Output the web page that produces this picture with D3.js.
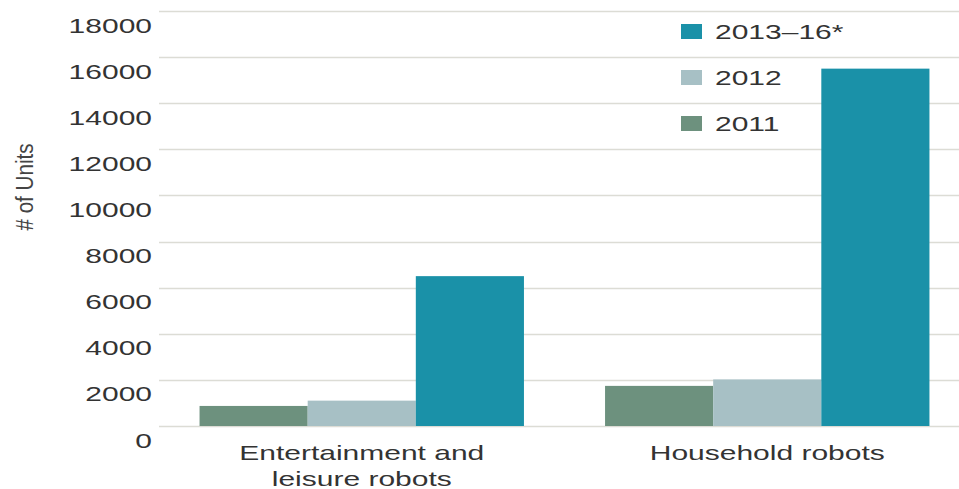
<!DOCTYPE html>
<html>
<head>
<meta charset="utf-8">
<script src="https://cdn.jsdelivr.net/npm/d3@7"></script>
<style>
  body { margin: 0; background: #fff; }
  text { font-family: "Liberation Sans", Arial, sans-serif; fill: #333; }
</style>
</head>
<body>
<svg id="chart" width="959" height="489"></svg>
<script>
// datos
var categories = ["Entertainment and leisure robots", "Household robots"],
    categoryLines = [["Entertainment and", "leisure robots"], ["Household robots"]],
    seriesNames = ["2011", "2012", "2013–16*"],
    values2011 = [870, 1740],
    values2012 = [1100, 2020],
    values2013_16 = [6500, 15500],
    yTicks = [0, 2000, 4000, 6000, 8000, 10000, 12000, 14000, 16000, 18000];

var colors = ["#6d917e", "#a7c0c5", "#1a91a8"],
    stretch = 1.5; // el original esta estirado en horizontal

var svg = d3.select("#chart"),
    x0 = d3.scaleBand().domain(categories).range([159, 970]).paddingInner(0.2).paddingOuter(0.1),
    x1 = d3.scaleBand().domain(seriesNames).range([0, x0.bandwidth()]).padding(0),
    y = d3.scaleLinear().domain([0, 18000]).range([426, 11]);

var data = categories.map(function(c, i) {
  return { cat: c, vals: [values2011[i], values2012[i], values2013_16[i]] };
});

// lineas de la grilla
svg.append("g")
  .selectAll("line")
  .data(yTicks)
  .enter().append("line")
    .attr("x1", 159)
    .attr("x2", 959)
    .attr("y1", function(d) { return Math.round(y(d)) + 0.5; })
    .attr("y2", function(d) { return Math.round(y(d)) + 0.5; })
    .attr("stroke", "#dcdcd5")
    .attr("stroke-width", 1.4);

// etiquetas del eje y
svg.append("g")
  .selectAll("text")
  .data(yTicks)
  .enter().append("text")
    .attr("transform", function(d) { return "translate(152," + (y(d) + 21.5) + ") scale(" + stretch + ",1)"; })
    .attr("text-anchor", "end")
    .attr("font-size", 20)
    .text(function(d) { return d; });

svg.append("text")
  .attr("transform", "translate(33,187) rotate(-90) scale(0.86,1)")
  .attr("text-anchor", "middle")
  .attr("font-size", 24)
  .style("fill", "#444")
  .text("# of Units");

// barras
svg.append("g")
  .selectAll("g")
  .data(data)
  .enter().append("g")
    .attr("transform", function(d) { return "translate(" + x0(d.cat) + ",0)"; })
  .selectAll("rect")
  .data(function(d) { return d.vals.map(function(v, i) { return { key: seriesNames[i], value: v, i: i }; }); })
  .enter().append("rect")
    .attr("x", function(d) { return x1(d.key); })
    .attr("y", function(d) { return y(d.value); })
    .attr("width", x1.bandwidth())
    .attr("height", function(d) { return y(0) - y(d.value); })
    .attr("fill", function(d) { return colors[d.i]; });

// etiquetas del eje x
svg.append("g")
  .selectAll("g")
  .data(categories)
  .enter().append("g")
  .each(function(c, i) {
    d3.select(this).selectAll("text")
      .data(categoryLines[i])
      .enter().append("text")
        .attr("transform", function(t, j) {
          return "translate(" + (x0(c) + x0.bandwidth() / 2) + "," + (460 + j * 25.5) + ") scale(" + stretch + ",1)";
        })
        .attr("text-anchor", "middle")
        .attr("font-size", 20)
        .text(function(t) { return t; });
  });

// leyenda
var legend = svg.append("g")
  .selectAll("g")
  .data(seriesNames.slice().reverse())
  .enter().append("g")
    .attr("transform", function(d, i) { return "translate(681," + (31.5 + i * 46) + ")"; });

legend.append("rect")
  .attr("x", 0)
  .attr("y", -7.5)
  .attr("width", 21)
  .attr("height", 15)
  .attr("fill", function(d) { return colors[seriesNames.indexOf(d)]; });

legend.append("text")
  .attr("transform", "translate(34,7.5) scale(" + stretch + ",1)")
  .attr("font-size", 20)
  .text(function(d) { return d; });
</script>
</body>
</html>
